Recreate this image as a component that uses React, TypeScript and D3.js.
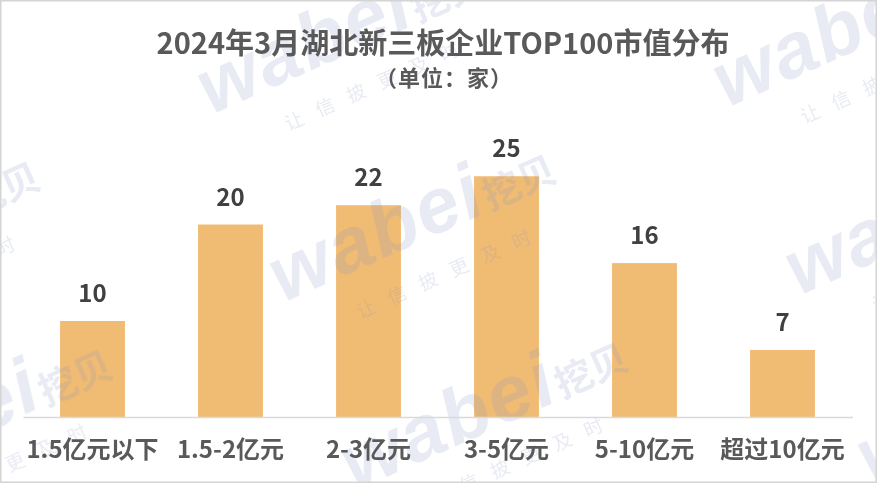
import React from "react";
import * as d3 from "d3";

const categories = ["1.5亿元以下", "1.5-2亿元", "2-3亿元", "3-5亿元", "5-10亿元", "超过10亿元"];
const values = [10, 20, 22, 25, 16, 7];
const titleText = "2024年3月湖北新三板企业TOP100市值分布";
const subtitleText = "（单位：家）";
const watermarkMain = "wabei";
const watermarkCjk = "挖贝";
const watermarkSub = "让信披更及时";

const W = 877;
const H = 483;
const CJK = "'Noto Sans CJK SC', 'Microsoft YaHei', sans-serif";

export default function App() {
  const x = d3
    .scaleBand<string>()
    .domain(categories)
    .range([23.5, 851.5])
    .paddingInner(0.53)
    .paddingOuter(0.265);
  const y = d3.scaleLinear().domain([0, 30]).range([417.5, 128]);

  // watermark lattice (decorative)
  const anchors: { ax: number; ay: number }[] = [];
  for (let i = -2; i <= 2; i++) {
    for (let j = -2; j <= 2; j++) {
      const ax = 283 + i * 516 + j * 72;
      const ay = 303 + j * 188 - i * 7;
      if (ax > -400 && ax < W + 50 && ay > -50 && ay < H + 200) anchors.push({ ax, ay });
    }
  }

  return (
    <svg
      width={W}
      height={H}
      style={{ position: "absolute", left: 0, top: 0, background: "#fff" }}
    >
      <defs>
        <clipPath id="frame">
          <rect x={0} y={0} width={W} height={H} />
        </clipPath>
      </defs>
      <rect x={0} y={0} width={W} height={H} fill="#ffffff" />

      {/* bars */}
      {categories.map((c, i) => (
        <rect
          key={c}
          x={x(c)}
          y={y(values[i])}
          width={x.bandwidth()}
          height={y(0) - y(values[i])}
          fill="#F0BB72"
        />
      ))}

      {/* watermark */}
      <g opacity={0.2} fill="#8e9bc6" clipPath="url(#frame)" style={{ pointerEvents: "none" }}>
        {anchors.map((a, k) => (
          <g key={k} transform={`translate(${a.ax},${a.ay}) rotate(-24)`}>
            <text
              x={0}
              y={0}
              fontFamily="'Liberation Sans', Arial, sans-serif"
              fontWeight={700}
              fontStyle="italic"
              fontSize={78}
              letterSpacing={2}
            >
              {watermarkMain}
              <tspan fontFamily={CJK} fontStyle="normal" fontWeight={700} fontSize={38} letterSpacing={0} dx={0}>
                {watermarkCjk}
              </tspan>
            </text>
            <text
              x={64}
              y={46}
              fontFamily={CJK}
              fontSize={19}
              letterSpacing={15}
            >
              {watermarkSub}
            </text>
          </g>
        ))}
      </g>

      {/* axis line */}
      <line x1={23.5} x2={853} y1={y(0)} y2={y(0)} stroke="#d9d9d9" strokeWidth={1.5} />

      {/* value labels */}
      {categories.map((c, i) => (
        <text
          key={"v" + c}
          x={(x(c) as number) + x.bandwidth() / 2}
          y={y(values[i]) - 19}
          textAnchor="middle"
          fontFamily={CJK}
          fontWeight={700}
          fontSize={24}
          fill="#404040"
        >
          {values[i]}
        </text>
      ))}

      {/* category labels */}
      {categories.map((c) => (
        <text
          key={"c" + c}
          x={(x(c) as number) + x.bandwidth() / 2}
          y={458}
          textAnchor="middle"
          fontFamily={CJK}
          fontWeight={700}
          fontSize={24}
          fill="#595959"
        >
          {c}
        </text>
      ))}

      {/* title */}
      <text
        x={443}
        y={54}
        textAnchor="middle"
        fontFamily={CJK}
        fontWeight={700}
        fontSize={29}
        fill="#595959"
      >
        {titleText}
      </text>
      <text
        x={443.5}
        y={86}
        textAnchor="middle"
        fontFamily={CJK}
        fontWeight={700}
        fontSize={22}
        fill="#595959"
        textLength={137}
        lengthAdjust="spacing"
      >
        {subtitleText}
      </text>

      {/* border */}
      <rect x={0.75} y={0.75} width={W - 1.5} height={H - 1.5} fill="none" stroke="#d4d4d4" strokeWidth={1.5} />
    </svg>
  );
}
